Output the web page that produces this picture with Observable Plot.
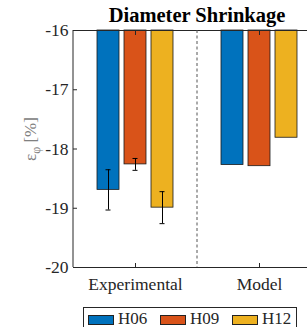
<!DOCTYPE html>
<html><head><meta charset="utf-8">
<script src="https://cdn.jsdelivr.net/npm/d3@7"></script>
<script src="https://cdn.jsdelivr.net/npm/@observablehq/plot@0.6"></script>
<style>
body{margin:0;background:#fff;}
#wrap{position:relative;width:307px;height:327px;overflow:hidden;font-family:"Liberation Serif","Times New Roman",serif;color:#262626;}
#chart{position:absolute;left:0;top:0;width:330px;}
#chart svg{max-width:none !important;width:330px;height:300px;}
#chart svg text{font-family:"Liberation Serif","Times New Roman",serif !important;}
#title{position:absolute;left:73px;width:248px;top:3px;text-align:center;font-weight:bold;font-size:20.5px;color:#000;line-height:24px;}
#ylabel{position:absolute;left:-19px;top:129px;width:100px;height:20px;line-height:20px;text-align:center;transform:rotate(-90deg);font-size:17px;color:#808080;white-space:nowrap;}
#ylabel sub{font-size:12px;line-height:0;}
#legend{position:absolute;left:83px;top:307px;width:214px;height:30px;border:1px solid #262626;box-sizing:border-box;background:#fff;}
.sw{position:absolute;top:7px;width:26px;height:10px;border:1px solid #222;box-sizing:border-box;}
.lt{position:absolute;top:3px;font-size:17px;line-height:15px;}
</style></head><body>
<div id="wrap">
 <div id="chart"></div>
 <div id="title">Diameter Shrinkage</div>
 <div id="ylabel">ε<sub>φ</sub> [%]</div>
 <div id="legend"></div>
</div>
<script>
const groups = ["Experimental", "Model"];
const series = ["H06", "H09", "H12"];
const experimental = [-18.69, -18.26, -18.99];
const experimentalErr = [0.34, 0.10, 0.27];
const model = [-18.27, -18.29, -17.81];
const colors = ["#0072BD", "#D95319", "#EDB120"];
const yTicks = [-20, -19, -18, -17, -16];
const baseline = -16;

const rows = [];
series.forEach((s, i) => {
  rows.push({group: groups[0], series: s, value: experimental[i], err: experimentalErr[i]});
  rows.push({group: groups[1], series: s, value: model[i], err: null});
});
const errRows = rows.filter(d => d.err != null);

const ink = "#262626";
const plot = Plot.plot({
  width: 330, height: 300,
  marginLeft: 73, marginRight: 9, marginTop: 30, marginBottom: 33,
  style: {fontSize: "17px", color: ink, background: "transparent"},
  fx: {domain: groups, padding: 0, label: null},
  x: {domain: series, paddingInner: 0.2, paddingOuter: 0.855, axis: null},
  y: {domain: [-20, -16], label: null},
  color: {domain: series, range: colors},
  marks: [
    Plot.barY(rows, {fx: "group", x: "series", y1: baseline, y2: "value", fill: "series", stroke: "#1a1a1a", strokeWidth: 0.8}),
    Plot.ruleX(errRows, {fx: "group", x: "series", y1: d => d.value - d.err, y2: d => d.value + d.err, stroke: "#000", strokeWidth: 1}),
    Plot.tickY(errRows, {fx: "group", x: "series", y: d => d.value - d.err, insetLeft: 8.5, insetRight: 8.5, stroke: "#000"}),
    Plot.tickY(errRows, {fx: "group", x: "series", y: d => d.value + d.err, insetLeft: 8.5, insetRight: 8.5, stroke: "#000"}),
    Plot.ruleY(yTicks.filter(t => t === -16 || t === -20), {y: d => d, stroke: ink, strokeWidth: 1}),
    Plot.axisY({ticks: yTicks, tickFormat: d => String(d), tickSize: -4, tickPadding: 9, stroke: ink, fill: ink, fontSize: 17.5}),
    Plot.axisFx({anchor: "bottom", tickSize: -4, tickPadding: 14, stroke: ink, fill: ink, fontSize: 17.5, label: null}),
    Plot.axisFx({anchor: "top", tickSize: -4, tickFormat: null, stroke: ink, label: null})
  ]
});
document.getElementById("chart").appendChild(plot);

// group separator (dashed) and left axis line, positioned through the library's scales
const fx = plot.scale("fx");
const yS = plot.scale("y");
const svg = d3.select(plot);
svg.append("line")
  .attr("x1", fx.apply(groups[1])).attr("x2", fx.apply(groups[1]))
  .attr("y1", yS.apply(-16)).attr("y2", yS.apply(-20))
  .attr("stroke", "#555").attr("stroke-dasharray", "3,2.5").attr("stroke-width", 1);
svg.append("line")
  .attr("x1", fx.apply(groups[0])).attr("x2", fx.apply(groups[0]))
  .attr("y1", yS.apply(-16)).attr("y2", yS.apply(-20))
  .attr("stroke", ink).attr("stroke-width", 1);

// legend
const lg = document.getElementById("legend");
const lx = [4, 76, 148];
series.forEach((s, i) => {
  const sw = document.createElement("div");
  sw.className = "sw";
  sw.style.left = lx[i] + "px";
  sw.style.background = colors[i];
  lg.appendChild(sw);
  const t = document.createElement("div");
  t.className = "lt";
  t.style.left = (lx[i] + 30) + "px";
  t.textContent = s;
  lg.appendChild(t);
});
</script>
</body></html>
